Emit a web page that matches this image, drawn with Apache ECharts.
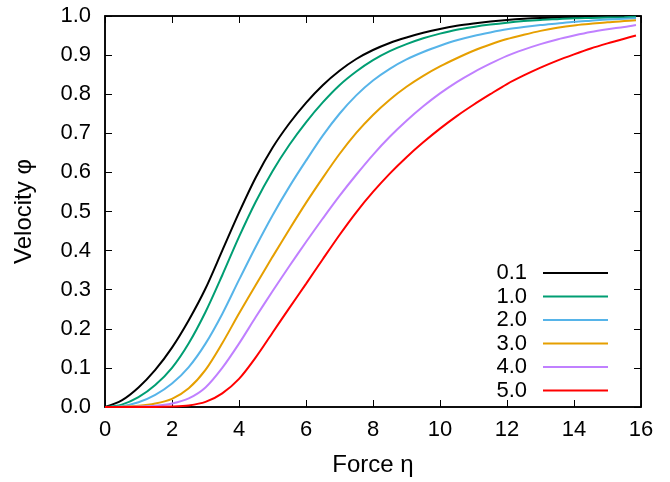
<!DOCTYPE html>
<html>
<head>
<meta charset="utf-8">
<script src="https://cdn.jsdelivr.net/npm/echarts@6/dist/echarts.min.js"></script>
<style>
  html, body { margin: 0; padding: 0; background: #fff; }
  #chart { width: 670px; height: 482px; }
</style>
</head>
<body>
<div id="chart"></div>
<script>
// Force values (η) at which each curve is sampled
const eta = [0, 0.5, 1, 1.5, 2, 2.5, 3, 3.5, 4, 4.5, 5, 5.5, 6, 6.5, 7, 7.5, 8, 8.5,
             9, 9.5, 10, 10.5, 11, 11.5, 12, 12.5, 13, 13.5, 14, 14.5, 15, 15.5, 15.85];

// Velocity φ for each parameter value
const v01 = [0, .017, .05, .095, .152, .222, .303, .40, .497, .587, .663, .725, .778, .823, .86, .89, .913, .931,
             .945, .957, .967, .975, .981, .986, .99, .993, .995, .996, .997, .998, .999, .999, .999];
const v10 = [0, .006, .025, .056, .10, .163, .243, .337, .435, .525, .603, .67, .728, .779, .823, .858, .887, .91,
             .928, .943, .955, .965, .972, .978, .983, .987, .99, .992, .994, .995, .996, .997, .998];
const v20 = [0, .002, .012, .031, .06, .102, .162, .238, .325, .41, .49, .563, .63, .694, .75, .797, .835, .865,
             .889, .908, .924, .938, .949, .958, .966, .972, .977, .981, .985, .988, .991, .993, .994];
const v30 = [0, .0005, .003, .009, .021, .048, .095, .163, .239, .312, .384, .454, .522, .586, .647, .701, .747, .786,
             .819, .847, .871, .892, .911, .927, .941, .952, .962, .97, .976, .98, .984, .987, .989];
const v40 = [0, 0, .001, .003, .009, .022, .05, .1, .162, .23, .296, .36, .422, .482, .54, .594, .645, .691,
             .732, .769, .802, .831, .856, .878, .898, .914, .928, .94, .95, .959, .966, .972, .977];
const v50 = [0, 0, 0, 0, .001, .004, .013, .035, .072, .127, .19, .253, .315, .378, .44, .498, .55, .597,
             .639, .677, .712, .744, .773, .8, .826, .848, .868, .886, .902, .917, .93, .942, .95];

const names = ['0.1', '1.0', '2.0', '3.0', '4.0', '5.0'];
const values = [v01, v10, v20, v30, v40, v50];
const colors = ['#000000', '#009e73', '#56b4e9', '#e69f00', '#c080ff', '#ff0000'];

// Tick labels
const xTicks = [0, 2, 4, 6, 8, 10, 12, 14, 16];
const yTicks = [0, 0.1, 0.2, 0.3, 0.4, 0.5, 0.6, 0.7, 0.8, 0.9, 1.0];

const FONT = 'Liberation Sans, Arial, sans-serif';

const chart = echarts.init(document.getElementById('chart'), null, { renderer: 'canvas' });

const series = names.map((n, i) => ({
  name: n,
  type: 'line',
  xAxisIndex: 0,
  yAxisIndex: 0,
  data: eta.map((x, k) => [x, values[i][k]]),
  smooth: 0.3,
  showSymbol: false,
  symbol: 'none',
  lineStyle: { color: colors[i], width: 2 },
  itemStyle: { color: colors[i] },
  animation: false
}));

const tickStyle = { show: true, inside: true, length: 7, lineStyle: { color: '#000', width: 1 } };

chart.setOption({
  backgroundColor: '#fff',
  animation: false,
  grid: {
    left: 105, right: 29, top: 16, bottom: 75,
    show: true, borderColor: '#000', borderWidth: 1.5, containLabel: false
  },
  legend: {
    orient: 'vertical',
    right: 57,
    top: 257,
    align: 'right',
    icon: 'rect',
    itemWidth: 65,
    itemHeight: 2,
    itemGap: 1.5,
    selectedMode: false,
    textStyle: { fontFamily: FONT, fontSize: 22, color: '#000', lineHeight: 22, padding: [0, 11, 0, 0] },
    data: names
  },
  xAxis: [{
    type: 'value', min: 0, max: 16, interval: 2, position: 'bottom',
    name: 'Force η', nameLocation: 'middle', nameGap: 46,
    nameTextStyle: { fontFamily: FONT, fontSize: 24, color: '#000' },
    axisLine: { show: true, onZero: false, lineStyle: { color: '#000', width: 1.5 } },
    axisTick: tickStyle,
    axisLabel: { fontFamily: FONT, fontSize: 22, color: '#000', margin: 12,
      formatter: v => xTicks.includes(v) ? String(v) : '' },
    splitLine: { show: false }
  }, {
    type: 'value', min: 0, max: 16, interval: 2, position: 'top',
    axisLine: { show: true, onZero: false, lineStyle: { color: '#000', width: 1.5 } },
    axisTick: tickStyle,
    axisLabel: { show: false },
    splitLine: { show: false }
  }],
  yAxis: [{
    type: 'value', min: 0, max: 1, interval: 0.1, position: 'left',
    name: 'Velocity φ', nameLocation: 'middle', nameGap: 69, nameRotate: 90,
    nameTextStyle: { fontFamily: FONT, fontSize: 24, color: '#000' },
    axisLine: { show: true, onZero: false, lineStyle: { color: '#000', width: 1.5 } },
    axisTick: tickStyle,
    axisLabel: { fontFamily: FONT, fontSize: 22, color: '#000', margin: 14,
      formatter: v => yTicks.some(t => Math.abs(t - v) < 1e-9) ? v.toFixed(1) : '' },
    splitLine: { show: false }
  }, {
    type: 'value', min: 0, max: 1, interval: 0.1, position: 'right',
    axisLine: { show: true, onZero: false, lineStyle: { color: '#000', width: 1.5 } },
    axisTick: tickStyle,
    axisLabel: { show: false },
    splitLine: { show: false }
  }],
  series: series
});
</script>
</body>
</html>
